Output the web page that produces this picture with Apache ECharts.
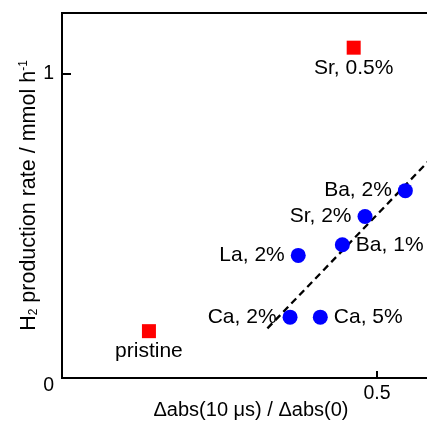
<!DOCTYPE html>
<html>
<head>
<meta charset="utf-8">
<script src="https://cdn.jsdelivr.net/npm/echarts@6/dist/echarts.min.js"></script>
<style>
  html, body { margin: 0; padding: 0; background: #fff; }
  #chart { width: 427px; height: 423px; }
</style>
</head>
<body>
<div id="chart"></div>
<script>
// Undoped and Sr-doped reference samples (red squares)
const refNames = ['pristine', 'Sr, 0.5%'];
const refX = [0.138, 0.463];
const refY = [0.154, 1.086];

// Doped samples (blue circles)
const dopedNames = ['Ca, 2%', 'Ca, 5%', 'La, 2%', 'Ba, 1%', 'Sr, 2%', 'Ba, 2%'];
const dopedX = [0.362, 0.410, 0.375, 0.445, 0.481, 0.545];
const dopedY = [0.200, 0.200, 0.403, 0.438, 0.531, 0.616];

// Dashed trend line end points
const trendX = [0.326, 0.600];
const trendY = [0.163, 0.752];

// Axis ticks that carry labels
const xTickLabels = [0.5];
const yTickLabels = [0, 1];

const FONT = '"Liberation Sans", Arial, Helvetica, sans-serif';
const INK = '#000';

// where each point's label sits relative to its marker
const labelSide = {
  'pristine': 'bottom', 'Sr, 0.5%': 'bottom',
  'Ca, 2%': 'left', 'Ca, 5%': 'right', 'La, 2%': 'left',
  'Ba, 1%': 'right', 'Sr, 2%': 'left', 'Ba, 2%': 'left'
};

function points(names, xs, ys) {
  return names.map((n, i) => ({
    name: n,
    value: [xs[i], ys[i]],
    label: { position: labelSide[n] }
  }));
}

const chart = echarts.init(document.getElementById('chart'), null, { renderer: 'canvas' });

chart.setOption({
  animation: false,
  backgroundColor: '#fff',
  textStyle: { fontFamily: FONT },
  grid: {
    left: 62, top: 13, right: -13, bottom: 45,
    show: true, borderColor: INK, borderWidth: 2,
    containLabel: false, outerBoundsMode: 'none'
  },
  xAxis: {
    type: 'value', min: 0, max: 0.6, interval: 0.5,
    splitLine: { show: false },
    axisLine: { show: true, lineStyle: { color: INK, width: 2 } },
    axisTick: { show: true, inside: true, length: 7, lineStyle: { color: INK, width: 2 } },
    axisLabel: {
      color: INK, fontSize: 19.5, fontFamily: FONT, margin: 6,
      formatter: v => xTickLabels.includes(Math.round(v * 100) / 100) ? String(v) : ''
    },
    name: 'Δabs(10 μs) / Δabs(0)',
    nameLocation: 'middle', nameGap: 22, nameMoveOverlap: false,
    nameTextStyle: { color: INK, fontSize: 20, fontFamily: FONT }
  },
  yAxis: {
    type: 'value', min: 0, max: 1.2, interval: 1,
    splitLine: { show: false },
    axisLine: { show: true, lineStyle: { color: INK, width: 2 } },
    axisTick: { show: true, inside: true, length: 9, lineStyle: { color: INK, width: 2 } },
    axisLabel: {
      color: INK, fontSize: 19.5, fontFamily: FONT, margin: 8,
      showMaxLabel: false,
      formatter: v => {
        if (!yTickLabels.includes(v)) return '';
        return v === 0 ? '{z|0}' : String(v);
      },
      rich: { z: { fontSize: 19.5, fontFamily: FONT, color: INK, padding: [16, 0, 0, 0] } }
    },
    name: '{n|H}{sub|2}{n| production rate / mmol h}{sup|-1}',
    nameLocation: 'middle', nameGap: 22, nameRotate: 90, nameMoveOverlap: false,
    nameTextStyle: {
      color: INK, fontFamily: FONT,
      rich: {
        n: { fontSize: 21.5, fontFamily: FONT, color: INK },
        sub: { fontSize: 12, fontFamily: FONT, color: INK, verticalAlign: 'bottom', padding: [9, 0, 0, 0] },
        sup: { fontSize: 12, fontFamily: FONT, color: INK, verticalAlign: 'top', padding: [0, 0, 9, 0] }
      }
    }
  },
  series: [
    {
      type: 'line',
      data: trendX.map((x, i) => [x, trendY[i]]),
      symbol: 'none',
      lineStyle: { color: INK, width: 2.3, type: [7, 4.5] },
      silent: true, z: 1
    },
    {
      type: 'scatter',
      data: points(refNames, refX, refY),
      symbol: 'rect', symbolSize: 14,
      itemStyle: { color: '#ff0000', opacity: 1 },
      label: {
        show: true, formatter: p => p.name, distance: 3,
        color: INK, fontSize: 21, fontFamily: FONT
      },
      z: 3
    },
    {
      type: 'scatter',
      data: points(dopedNames, dopedX, dopedY),
      symbol: 'circle', symbolSize: 15,
      itemStyle: { color: '#0000ff', opacity: 1 },
      label: {
        show: true, formatter: p => p.name, distance: 6,
        color: INK, fontSize: 21, fontFamily: FONT
      },
      z: 3
    }
  ]
});
</script>
</body>
</html>
